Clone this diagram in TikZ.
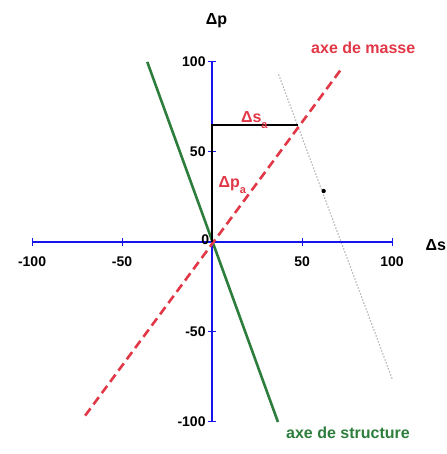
\documentclass[tikz,border=0pt]{standalone}
\usepackage{fontspec}
\setmainfont{Liberation Sans}
\usepackage{tikz}
\usetikzlibrary{positioning}
\definecolor{axblue}{RGB}{20,20,235}
\definecolor{masred}{RGB}{225,55,70}
\definecolor{strgreen}{RGB}{45,125,60}
\tikzset{
  axis/.style={line width=2.6pt,axblue},
  tick/.style={line width=1pt,axblue},
  ticklbl/.style={font=\bfseries\fontsize{14}{14}\selectfont,inner sep=0pt},
  axlbl/.style={font=\bfseries\fontsize{16}{16}\selectfont,inner sep=0pt},
  redlbl/.style={font=\bfseries\fontsize{16}{16}\selectfont,masred,inner sep=0pt},
}
\begin{document}
\begin{tikzpicture}[x=1.8pt,y=1.8pt]
\useasboundingbox (-117.8,-117.8) rectangle (130,134.4);
\coordinate (O) at (0,0);
\coordinate (xl) at (-100,0); \coordinate (xr) at (100,0);
\coordinate (yb) at (0,-100); \coordinate (yt) at (0,100);
\coordinate (m1) at (-70.5,-96.5); \coordinate (m2) at (72.5,97);
\coordinate (s1) at (-36,100); \coordinate (s2) at (36.6,-100);
\coordinate (c) at (48,65); \coordinate (cv) at (0,65);
\coordinate (g1) at (37,93); \coordinate (g2) at (100,-76);
% structure and mass axes
\draw[line width=2.6pt,strgreen] (s1) -- (s2);
\draw[gray!70,dotted,line width=1.2pt] (g1) -- (g2);
% coordinate axes
\draw[axis] (xl) -- (xr);
\draw[axis] (yb) -- (yt);
\foreach \v in {-100,-50,50,100} {
  \draw[tick] (\v,-2.2) -- (\v,2.2);
  \draw[tick] (-2.2,\v) -- (2.2,\v);
}
\draw[line width=2.6pt,masred,dash pattern=on 9pt off 5pt] (m1) -- (m2);
% decomposition
\draw[line width=2.6pt,black] (O) -- (cv) -- (c);
\fill (62,28.3) circle (1.2);
% tick labels
\foreach \v/\n in {-100/xa,-50/xb,50/xc,100/xd}
  \node[ticklbl] (\n) at (\v,-11) {\v};
\node[ticklbl,anchor=east] (y1) at (-3.5,100) {100};
\node[ticklbl,anchor=east] (y2) at (-3.5,50) {50};
\node[ticklbl,anchor=east] (y3) at (-3.5,-50) {-50};
\node[ticklbl,anchor=east] (y4) at (-3.5,-100) {-100};
\node[ticklbl,anchor=east] (zero) at (-1.5,1) {0};
% axis labels
\node[axlbl] (dp) at (2.5,123) {Δp};
\node[axlbl,anchor=west] (ds) at (118.5,-1.5) {Δs};
\node[redlbl] (mlbl) at (84,108) {axe de masse};
\node[axlbl,strgreen] (slbl) at (75.5,-106) {axe de structure};
\node[redlbl,anchor=base west] (dsa) at (16,66.5) {Δs\raisebox{-0.7ex}{\fontsize{11}{11}\selectfont a}};
\node[redlbl,anchor=base west] (dpa) at (3.5,30) {Δp\raisebox{-0.7ex}{\fontsize{11}{11}\selectfont a}};
\end{tikzpicture}
\end{document}
